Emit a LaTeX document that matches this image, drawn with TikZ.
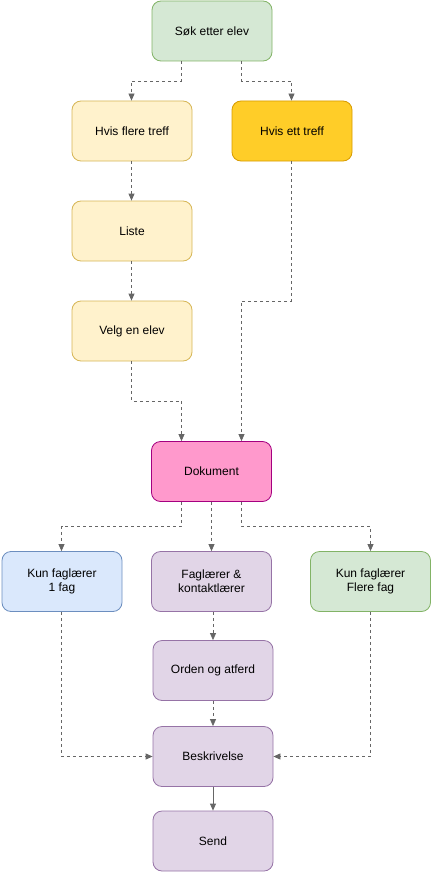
\documentclass[tikz,border=0pt]{standalone}
\usepackage{fontspec}
\setmainfont{Liberation Sans}
\usetikzlibrary{arrows.meta}
\definecolor{gF}{HTML}{D5E8D4}\definecolor{gS}{HTML}{82B366}
\definecolor{yF}{HTML}{FFF2CC}\definecolor{yS}{HTML}{D6B656}
\definecolor{oF}{HTML}{FFCD28}\definecolor{oS}{HTML}{D79B00}
\definecolor{pF}{HTML}{FF99CC}\definecolor{pS}{HTML}{A50080}
\definecolor{bF}{HTML}{DAE8FC}\definecolor{bS}{HTML}{6C8EBF}
\definecolor{vF}{HTML}{E1D5E7}\definecolor{vS}{HTML}{9673A6}
\definecolor{eC}{HTML}{666666}
\begin{document}
\begin{tikzpicture}[x=1pt,y=-1pt,
  box/.style={draw, rounded corners=9pt, minimum width=120pt, minimum height=60pt,
    inner sep=0pt, align=center, font=\fontsize{12pt}{14pt}\selectfont, line width=0.8pt},
  green/.style={box, fill=gF, draw=gS},
  yel/.style={box, fill=yF, draw=yS},
  org/.style={box, fill=oF, draw=oS},
  pink/.style={box, fill=pF, draw=pS},
  blu/.style={box, fill=bF, draw=bS},
  vio/.style={box, fill=vF, draw=vS},
  conn/.style={draw=eC, line width=0.8pt, dash pattern=on 3pt off 3pt,
    -{Triangle[length=7pt,width=6pt]}},
  sconn/.style={draw=eC, line width=0.8pt, -{Triangle[length=7pt,width=6pt]}}]
\useasboundingbox (0,0) rectangle (432,872);
\node[green] (sok) at (212,31) {Søk etter elev};
\node[yel] (flere) at (132,131) {Hvis flere treff};
\node[org] (ett) at (292,131) {Hvis ett treff};
\node[yel] (liste) at (132,231) {Liste};
\node[yel] (velg) at (132,331) {Velg en elev};
\node[pink] (dok) at (211.5,471.5) {Dokument};
\node[blu] (kun1) at (62,581.5) {Kun faglærer\\1 fag};
\node[vio] (fagk) at (211.5,581.5) {Faglærer \&\\kontaktlærer};
\node[green] (kunf) at (370.5,581.5) {Kun faglærer\\Flere fag};
\node[vio] (orden) at (213,670.5) {Orden og atferd};
\node[vio] (besk) at (213,756.5) {Beskrivelse};
\node[vio] (send) at (213,841) {Send};
\draw[conn] (sok.south -| 181.5,0) |- (131.5,81) -- (flere.north -| 131.5,0);
\draw[conn] (sok.south -| 241.5,0) |- (291.5,81) -- (ett.north -| 291.5,0);
\draw[conn] (flere.south -| 131.5,0) -- (liste.north -| 131.5,0);
\draw[conn] (liste.south -| 131.5,0) -- (velg.north -| 131.5,0);
\draw[conn] (velg.south -| 131.5,0) |- (181.5,401) -- (dok.north -| 181.5,0);
\draw[conn] (ett.south -| 291.5,0) |- (241.5,301) -- (dok.north -| 241.5,0);
\draw[conn] (dok.south -| 181.5,0) |- (61.5,526) -- (kun1.north -| 61.5,0);
\draw[conn] (dok.south -| 211.5,0) -- (fagk.north -| 211.5,0);
\draw[conn] (dok.south -| 241.5,0) |- (370.5,526) -- (kunf.north -| 370.5,0);
\draw[conn] (fagk.south -| 213,0) -- (orden.north -| 213,0);
\draw[conn] (orden) -- (besk);
\draw[conn] (kun1.south -| 61.5,0) |- (besk.west);
\draw[conn] (kunf.south -| 370.5,0) |- (besk.east);
\draw[sconn] (besk) -- (send);
\end{tikzpicture}
\end{document}
